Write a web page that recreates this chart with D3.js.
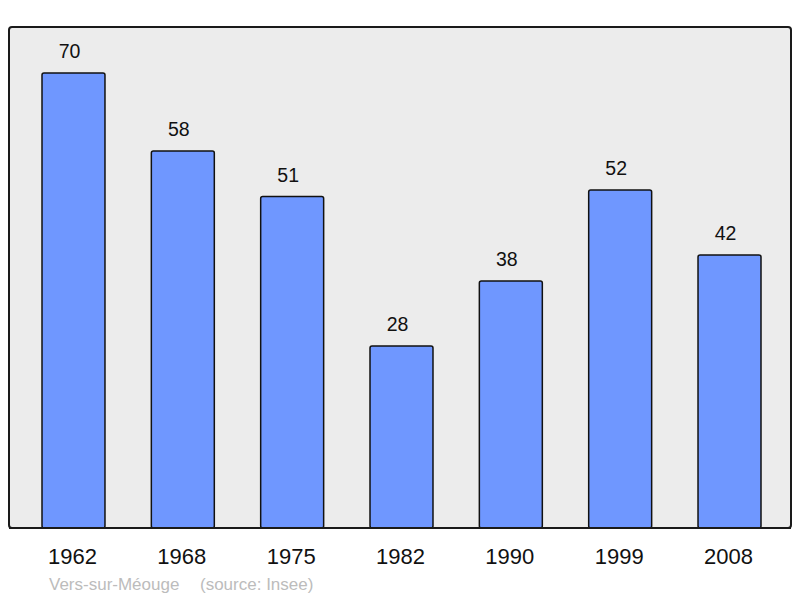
<!DOCTYPE html>
<html lang="fr">
<head>
  <meta charset="utf-8">
  <title>Vers-sur-Méouge</title>
  <script src="https://d3js.org/d3.v7.min.js"></script>
  <style>
    body { margin: 0; background: #fff; }
    text { font-family: "Liberation Sans", Arial, sans-serif; }
  </style>
</head>
<body>
  <div id="stage"></div>
  <script>
    // population per census year
    var years = ["1962", "1968", "1975", "1982", "1990", "1999", "2008"];
    var population = [70, 58, 51, 28, 38, 52, 42];
    var townName = "Vers-sur-Méouge";
    var sourceLabel = "(source: Insee)";

    var width = 800, height = 598;
    var svg = d3.select("#stage").append("svg")
      .attr("width", width).attr("height", height);

    // frame of the plot
    var frame = { left: 9, top: 27, right: 791, bottom: 528 };
    svg.append("rect")
      .attr("x", frame.left).attr("y", frame.top)
      .attr("width", frame.right - frame.left)
      .attr("height", frame.bottom - frame.top)
      .attr("rx", 3)
      .style("fill", "#ececec")
      .style("stroke", "#1a1a1a")
      .style("stroke-width", 2);

    var x = d3.scaleBand()
      .domain(years)
      .range([42, 761])
      .paddingInner(0.424)
      .paddingOuter(0);

    var y = d3.scaleLinear()
      .domain([0, 70])
      .range([frame.bottom, 73]);

    svg.selectAll("rect.bar")
      .data(population)
      .enter().append("rect")
      .attr("class", "bar")
      .attr("x", function (d, i) { return x(years[i]); })
      .attr("y", function (d) { return y(d); })
      .attr("width", x.bandwidth())
      .attr("height", function (d) { return frame.bottom - y(d); })
      .attr("rx", 2)
      .style("fill", "#6f97ff")
      .style("stroke", "#111")
      .style("stroke-width", 1.5);

    // redraw the bottom line over the bars
    svg.append("line")
      .attr("x1", frame.left).attr("x2", frame.right)
      .attr("y1", frame.bottom).attr("y2", frame.bottom)
      .style("stroke", "#1a1a1a").style("stroke-width", 2);

    svg.selectAll("text.val")
      .data(population)
      .enter().append("text")
      .attr("class", "val")
      .attr("x", function (d, i) { return x(years[i]) + x.bandwidth() / 2 - 4; })
      .attr("y", function (d) { return y(d) - 15; })
      .attr("text-anchor", "middle")
      .style("font-size", "19.5px")
      .style("fill", "#111")
      .text(function (d) { return d; });

    var xAxis = d3.axisBottom(x).tickSize(0).tickPadding(0);
    var ax = svg.append("g")
      .attr("transform", "translate(0," + (frame.bottom + 20) + ")")
      .call(xAxis);
    ax.select(".domain").remove();
    ax.selectAll("text")
      .attr("dy", "0.71em")
      .attr("dx", -1)
      .style("font-family", "'Liberation Sans', Arial, sans-serif")
      .style("font-size", "22px")
      .style("fill", "#111");

    svg.append("text")
      .attr("x", 49).attr("y", 590)
      .style("font-size", "17px")
      .style("fill", "#bcbcbc")
      .text(townName);
    svg.append("text")
      .attr("x", 200).attr("y", 590)
      .style("font-size", "17px")
      .style("fill", "#bcbcbc")
      .text(sourceLabel);
  </script>
</body>
</html>
